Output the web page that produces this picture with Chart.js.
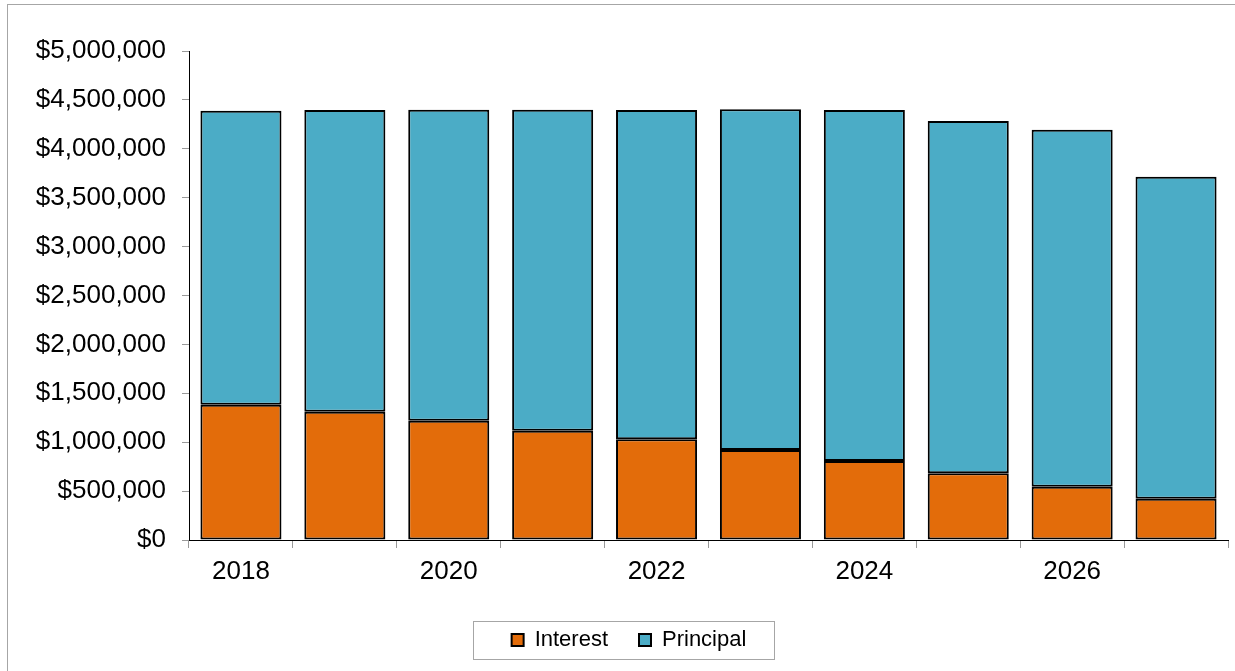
<!DOCTYPE html>
<html>
<head>
<meta charset="utf-8">
<script src="https://cdn.jsdelivr.net/npm/chart.js@4.4.1/dist/chart.umd.min.js"></script>
<style>
  html, body { margin: 0; padding: 0; background: #fff; }
  #wrap { position: relative; width: 1235px; height: 671px; overflow: hidden; }
  #frame {
    position: absolute; left: 7px; top: 4px; width: 1240px; height: 700px;
    border: 1px solid #a6a6a6; pointer-events: none;
  }
  canvas { position: absolute; left: 0; top: 0; }
</style>
</head>
<body>
<div id="wrap">
  <canvas id="chart" width="1235" height="671"></canvas>
  <div id="frame"></div>
</div>
<script>
// Data
const years = ['2018', '2019', '2020', '2021', '2022', '2023', '2024', '2025', '2026', '2027'];
const interest = [1384000, 1312000, 1220000, 1118000, 1030000, 920000, 808000, 682000, 545000, 422000];
const principal = [3006000, 3085000, 3180000, 3282000, 3367000, 3484000, 3589000, 3602000, 3650000, 3293000];

const FONT = 'Arial, "Liberation Sans", sans-serif';

// draws the thin frame around the legend items
const legendBox = {
  id: 'legendBox',
  afterDraw(chart) {
    const boxes = chart.legend && chart.legend.legendHitBoxes;
    if (!boxes || !boxes.length) return;
    const left = Math.min(...boxes.map(b => b.left)) - 39;
    const right = Math.max(...boxes.map(b => b.left + b.width)) + 27;
    const top = Math.min(...boxes.map(b => b.top)) - 8;
    const bottom = Math.max(...boxes.map(b => b.top + b.height)) + 8;
    const ctx = chart.ctx;
    ctx.save();
    ctx.strokeStyle = '#a6a6a6';
    ctx.lineWidth = 1;
    ctx.strokeRect(Math.round(left) + 0.5, Math.round(top) + 0.5, Math.round(right - left), Math.round(bottom - top));
    ctx.restore();
  }
};

const ctx = document.getElementById('chart').getContext('2d');
new Chart(ctx, {
  type: 'bar',
  data: {
    labels: years,
    datasets: [
      {
        label: 'Interest',
        data: interest,
        backgroundColor: '#E36C0A',
        borderColor: '#000',
        borderWidth: 2,
        borderSkipped: false,
        inflateAmount: 0
      },
      {
        label: 'Principal',
        data: principal,
        backgroundColor: '#4BACC6',
        borderColor: '#000',
        borderWidth: 2,
        borderSkipped: false,
        inflateAmount: 0
      }
    ]
  },
  options: {
    responsive: false,
    animation: false,
    devicePixelRatio: 1,
    barPercentage: 0.78,
    categoryPercentage: 1,
    layout: { padding: { left: 30, right: 7, top: 51, bottom: 10 } },
    plugins: {
      tooltip: { enabled: false },
      legend: {
        position: 'bottom',
        labels: {
          color: '#000',
          font: { family: FONT, size: 22 },
          boxWidth: 12,
          boxHeight: 12,
          padding: 31
        }
      }
    },
    scales: {
      x: {
        stacked: true,
        grid: { offset: true, drawOnChartArea: false, drawTicks: true, tickLength: 8, color: '#999' },
        border: { color: '#000', width: 1 },
        ticks: {
          autoSkip: false,
          maxRotation: 0,
          color: '#000',
          font: { family: FONT, size: 26 },
          padding: 8,
          callback: (v, i) => (i % 2 === 0 ? years[i] : '')
        },
        afterFit: scale => { scale.height = 58; }
      },
      y: {
        stacked: true,
        min: 0,
        max: 5000000,
        grid: { drawOnChartArea: false, drawTicks: true, tickLength: 7, color: '#999' },
        border: { color: '#000', width: 1 },
        ticks: {
          stepSize: 500000,
          color: '#000',
          font: { family: FONT, size: 26 },
          padding: 16,
          callback: v => '$' + v.toLocaleString('en-US')
        },
        afterFit: scale => { scale.width = 159; }
      }
    }
  },
  plugins: [legendBox]
});
</script>
</body>
</html>
